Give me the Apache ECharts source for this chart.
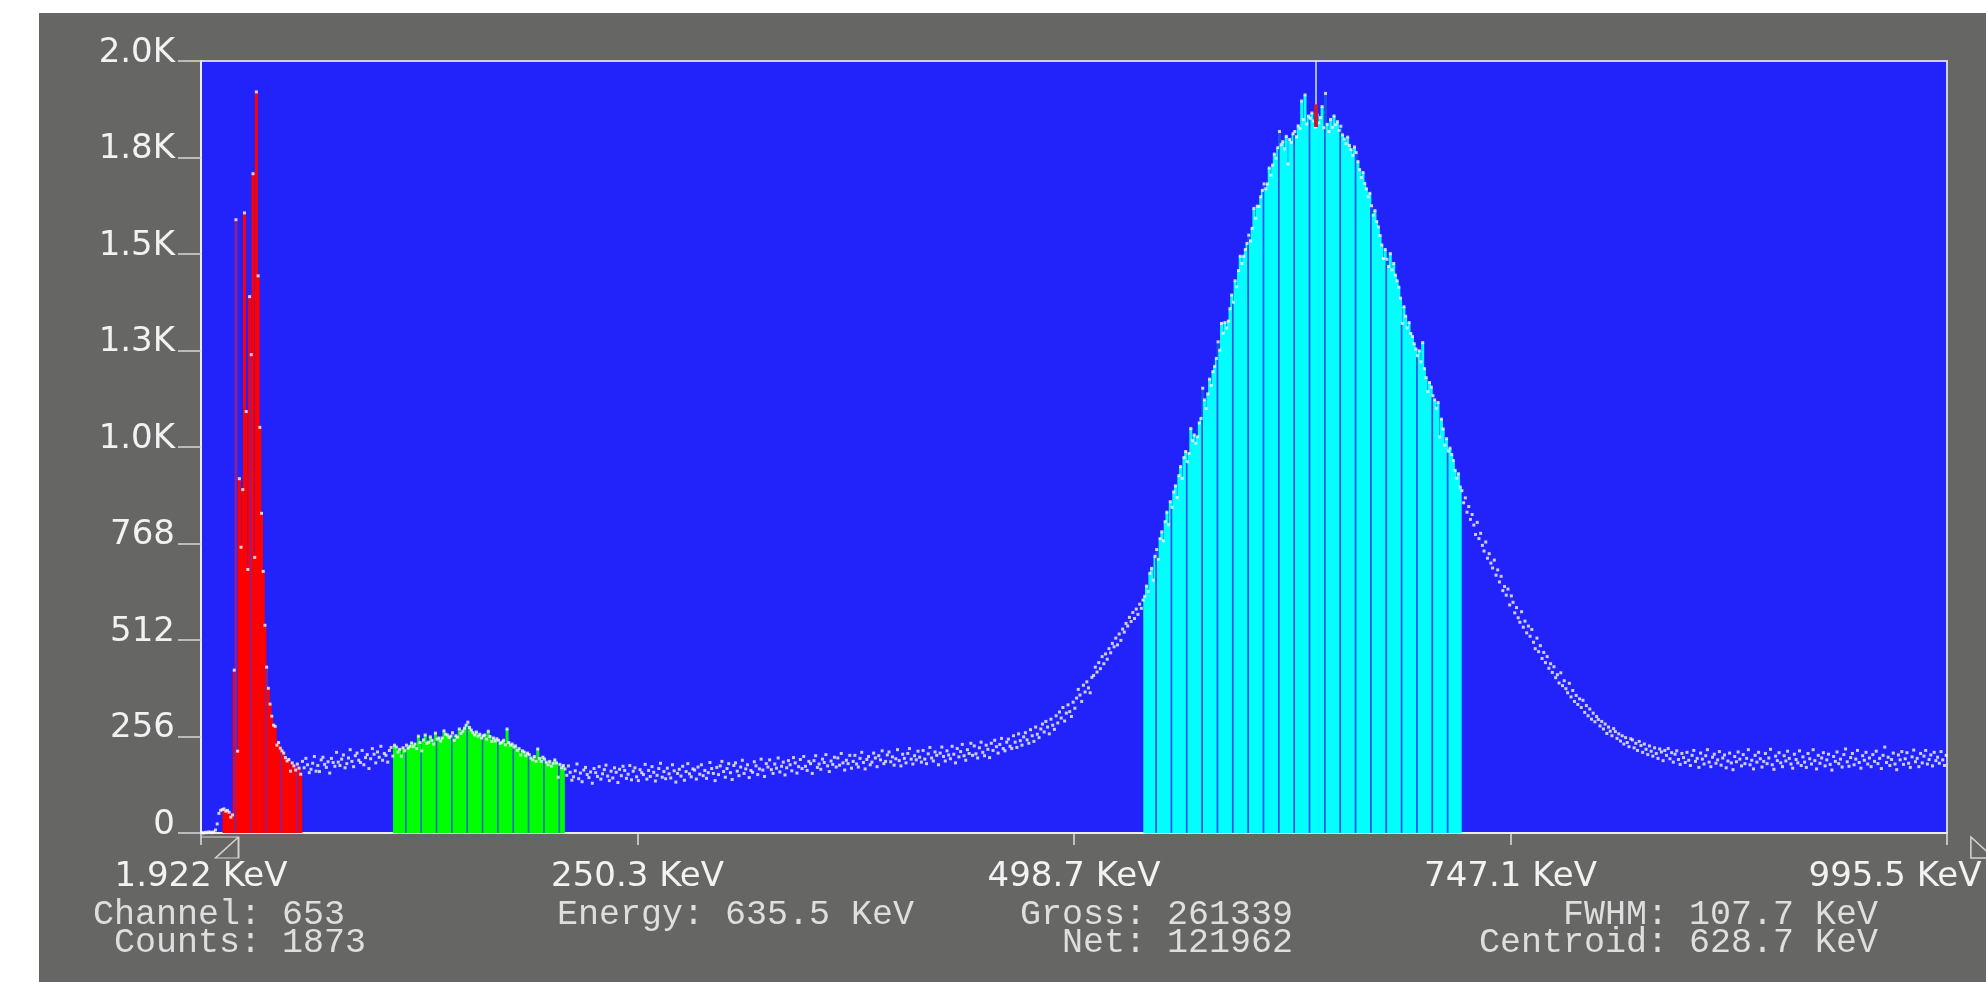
<!DOCTYPE html>
<html>
<head>
<meta charset="utf-8">
<title>Spectrum</title>
<script src="https://cdn.jsdelivr.net/npm/echarts@6/dist/echarts.min.js"></script>
<style>
  html, body { margin: 0; padding: 0; background: #ffffff; }
  #frame { position: relative; width: 1986px; height: 982px; overflow: hidden; background: #ffffff; }
  #panel { position: absolute; left: 39px; top: 13px; right: 0; bottom: 0; background: #666765; }
  #chart { position: absolute; left: 0; top: 0; width: 1986px; height: 982px; }
</style>
</head>
<body>
<div id="frame"><div id="panel"></div><div id="chart"></div></div>
<script>
// Axis tick labels (energy on x, counts on y)
const xTickLabels = ['1.922 KeV', '250.3 KeV', '498.7 KeV', '747.1 KeV', '995.5 KeV'];
const yTickLabels = ['0', '256', '512', '768', '1.0K', '1.3K', '1.5K', '1.8K', '2.0K'];
const yStep = 256;
const energyStart = 1.922;
const energyEnd = 995.5;

// Counts per channel, split into consecutive stretches of the spectrum
const countsLow = [1, 0, 2, 1, 3, 2, 1, 3, 8, 24, 52, 60, 62];            // ch 0-12
const countsRoiA = [                                                    // ch 13-58
  64, 58, 60, 55, 42, 48,
  432, 1627, 217, 940, 758, 911, 1645, 1118, 699, 1423,
  1269, 1749, 731, 1966, 1478, 1076, 848, 694, 551, 440,
  384, 342, 310, 286, 283, 233, 240, 225, 218, 212,
  200, 191, 195, 164, 186, 178, 167, 183, 172, 156
];
const countsMidA = [                                                    // ch 59-112
  190, 173, 198, 181, 160, 169, 185, 203, 164, 179,
  163, 194, 201, 182, 174, 189, 159, 198, 187, 177,
  214, 188, 179, 196, 207, 173, 184, 199, 221, 190,
  176, 205, 212, 193, 187, 219, 181, 200, 208, 171,
  197, 224, 209, 186, 215, 201, 230, 193, 211, 206,
  188, 219, 227, 204
];
const countsRoiB = [                                                    // ch 113-212
  233, 228, 215, 222, 204, 226, 218, 233, 225, 230,
  239, 229, 236, 224, 257, 240, 218, 247, 260, 238,
  241, 255, 246, 236, 265, 249, 252, 244, 252, 271,
  262, 260, 253, 257, 266, 246, 258, 254, 276, 264,
  270, 278, 286, 294, 280, 273, 266, 260, 268, 257,
  262, 252, 258, 260, 249, 270, 256, 243, 252, 244,
  250, 246, 238, 241, 246, 234, 276, 240, 233, 236,
  228, 231, 219, 224, 207, 218, 215, 205, 212, 208,
  199, 194, 203, 190, 223, 198, 190, 201, 196, 188,
  181, 190, 177, 185, 194, 186, 148, 182, 173, 179
];
const countsMidB = [                                                    // ch 213-552
  170, 153, 178, 161, 140, 149, 165, 183, 144, 159,
  136, 167, 174, 155, 147, 162, 132, 171, 160, 150,
  176, 143, 157, 168, 180, 151, 139, 164, 146, 173,
  161, 134, 169, 152, 177, 166, 145, 156, 179, 141,
  164, 173, 149, 139, 168, 160, 155, 182, 143, 166,
  150, 176, 161, 138, 153, 171, 185, 148, 163, 144,
  172, 157, 146, 181, 165, 135, 158, 169, 151, 177,
  140, 163, 184, 157, 149, 170, 167, 143, 175, 156,
  181, 152, 166, 145, 160, 187, 171, 158, 139, 174,
  155, 178, 190, 163, 148, 171, 184, 160, 142, 179,
  186, 164, 152, 175, 193, 158, 170, 181, 147, 166,
  161, 189, 178, 155, 170, 196, 167, 150, 184, 175,
  194, 168, 158, 183, 172, 199, 162, 177, 188, 154,
  173, 192, 181, 165, 200, 186, 159, 176, 195, 171,
  203, 177, 166, 190, 184, 158, 192, 205, 174, 183,
  169, 196, 187, 208, 178, 163, 191, 182, 201, 175,
  199, 180, 211, 186, 167, 193, 184, 206, 172, 190,
  206, 183, 175, 198, 214, 187, 170, 195, 203, 181,
  188, 212, 199, 176, 205, 194, 218, 184, 190, 207,
  215, 189, 202, 180, 197, 221, 192, 178, 209, 198,
  186, 211, 224, 196, 183, 205, 194, 217, 201, 188,
  219, 196, 184, 210, 227, 199, 191, 215, 206, 181,
  212, 228, 203, 191, 218, 207, 197, 230, 209, 186,
  224, 202, 216, 235, 205, 193, 221, 211, 238, 206,
  231, 210, 199, 226, 241, 214, 205, 233, 222, 200,
  238, 219, 246, 229, 212, 235, 251, 224, 218, 241,
  249, 230, 224, 258, 241, 227, 263, 245, 233, 255,
  266, 247, 238, 274, 258, 243, 281, 262, 253, 276,
  289, 268, 296, 281, 263, 302, 286, 275, 311, 292,
  321, 305, 333, 297, 318, 340, 322, 309, 347, 331,
  358, 381, 366, 349, 392, 374, 401, 385, 372, 413,
  418, 440, 427, 452, 436, 468, 449, 475, 461, 489,
  478, 503, 494, 517, 499, 528, 511, 541, 533, 556,
  549, 572, 561, 585, 569, 594, 580, 607, 596, 618
];
const countsRoiC = [                                                    // ch 553-738
  628, 655, 641, 689, 702, 671, 734, 752, 726, 781,
  799, 775, 826, 851, 818, 879, 864, 905, 921, 890,
  948, 972, 941, 996, 1012, 985, 1007, 1073, 1041, 1056,
  1034, 1051, 1088, 1100, 1180, 1149, 1126, 1165, 1204, 1187,
  1224, 1238, 1259, 1303, 1281, 1352, 1326, 1354, 1340, 1358,
  1391, 1427, 1408, 1465, 1449, 1492, 1530, 1511, 1530, 1548,
  1564, 1586, 1571, 1604, 1657, 1631, 1663, 1662, 1688, 1705,
  1722, 1709, 1722, 1764, 1745, 1772, 1801, 1790, 1818, 1861,
  1826, 1834, 1815, 1848, 1775, 1840, 1832, 1855, 1861, 1847,
  1876, 1869, 1942, 1893, 1958, 1881, 1902, 1896, 1910, 1889,
  1873, 1905, 1884, 1898, 1927, 1871, 1962, 1880, 1861, 1893,
  1872, 1902, 1879, 1887, 1864, 1875, 1852, 1841, 1829, 1846,
  1824, 1813, 1798, 1820, 1805, 1781, 1760, 1739, 1752, 1723,
  1709, 1688, 1697, 1664, 1639, 1651, 1622, 1608, 1585, 1560,
  1524, 1548, 1522, 1503, 1537, 1494, 1511, 1480, 1465, 1448,
  1419, 1352, 1396, 1371, 1340, 1354, 1325, 1317, 1298, 1284,
  1266, 1279, 1250, 1301, 1232, 1208, 1171, 1195, 1183, 1160,
  1149, 1127, 1142, 1051, 1098, 1072, 1029, 1046, 1013, 1021,
  1004, 988, 962, 941, 953, 918
];
const countsTail = [                                                    // ch 739-1023
  908, 876, 889, 851, 866, 832, 845, 817, 792, 824,
  781, 795, 763, 748, 772, 729, 741, 716, 703, 724,
  684, 698, 666, 681, 643, 654, 631, 647, 605, 629,
  612, 584, 598, 571, 559, 587, 546, 562, 531, 549,
  522, 540, 506, 489, 517, 481, 497, 463, 479, 452,
  468, 437, 449, 426, 441, 412, 420, 398, 425, 391,
  404, 383, 372, 397, 361, 378, 349, 365, 341, 356,
  333, 352, 320, 338, 311, 329, 302, 318, 295, 309,
  301, 284, 296, 276, 289, 264, 281, 270, 258, 277,
  269, 251, 263, 244, 258, 236, 253, 240, 229, 250,
  247, 226, 238, 219, 243, 232, 214, 236, 222, 208,
  231, 217, 204, 226, 211, 198, 223, 215, 192, 219,
  206, 224, 197, 213, 188, 209, 218, 195, 182, 211,
  200, 187, 214, 193, 179, 206, 219, 190, 198, 174,
  212, 196, 183, 205, 221, 188, 176, 201, 209, 185,
  194, 216, 180, 199, 207, 173, 191, 212, 186, 168,
  203, 189, 215, 196, 178, 208, 184, 198, 221, 181,
  193, 170, 206, 188, 214, 197, 175, 190, 211, 184,
  199, 222, 181, 169, 204, 192, 213, 186, 176, 205,
  191, 217, 198, 183, 172, 209, 195, 186, 218, 179,
  202, 188, 174, 211, 197, 183, 221, 192, 170, 206,
  185, 199, 213, 178, 194, 209, 182, 167, 203, 190,
  215, 184, 196, 175, 208, 223, 189, 177, 200, 211,
  181, 196, 219, 187, 172, 205, 193, 214, 183, 199,
  176, 208, 190, 217, 184, 198, 171, 206, 228, 187,
  201, 179, 195, 212, 183, 168, 207, 194, 216, 182,
  197, 213, 185, 174, 202, 220, 189, 198, 176, 211,
  186, 204, 219, 183, 195, 207, 178, 214, 192, 201,
  185, 216, 194, 179, 206
];

// Regions of interest (first and last channel) and their fill colours
const roiStart = [13, 113, 553];
const roiEnd = [58, 212, 738];
const roiFill = ['#ff0000', '#00ff00', '#00ffff'];
const roiSeam = ['#8a2096', '#1c74b4', '#1c52e4'];

// Cursor and range markers
const cursorChannel = 653;
const markerChannels = [22, 1038];

// Region statistics shown in the status lines
const roiGross = 261339;
const roiNet = 121962;
const roiFwhm = 107.7;
const roiCentroid = 628.7;

const counts = [].concat(countsLow, countsRoiA, countsMidA, countsRoiB, countsMidB, countsRoiC, countsTail);
const channelCount = counts.length;
const yMax = yStep * (yTickLabels.length - 1);
const xStep = channelCount / (xTickLabels.length - 1);
const kevPerChannel = (energyEnd - energyStart) / channelCount;

// Channel bars inside each region; every ninth column shows the darker seam
const barData = [];
roiStart.forEach((s, r) => {
  for (let ch = s; ch <= roiEnd[r]; ch++) {
    barData.push({
      value: [ch + 0.5, counts[ch]],
      itemStyle: { color: (ch - s) % 9 === 7 ? roiSeam[r] : roiFill[r] }
    });
  }
});

const dotData = counts.map((c, ch) => [ch + 0.5, c]);

const labelFont = 'DejaVu Sans';
const monoFont = 'Liberation Mono';
const textColor = '#f2f2f2';
const infoColor = '#dedede';

const cursorX = cursorChannel + 0.5;
const cursorCounts = counts[cursorChannel];

const infoStyle = { fontFamily: monoFont, fontSize: 35, lineHeight: 28, fill: infoColor };

const option = {
  animation: false,
  backgroundColor: 'transparent',
  grid: {
    left: 201, top: 61, width: 1746, height: 772,
    containLabel: false,
    outerBoundsMode: 'none',
    show: true,
    backgroundColor: '#2222fb',
    borderColor: '#cfd0e4',
    borderWidth: 2
  },
  xAxis: {
    type: 'value',
    min: 0, max: channelCount, interval: xStep,
    splitLine: { show: false },
    axisLine: { show: true, onZero: false, lineStyle: { color: '#ececec', width: 2 } },
    axisTick: { show: true, inside: false, length: 12, lineStyle: { color: '#e0e0e0', width: 1.5 } },
    axisLabel: {
      show: true, margin: 27, showMinLabel: true, showMaxLabel: true, hideOverlap: false,
      formatter: (v) => {
        const i = Math.round(v / xStep);
        return i === xTickLabels.length - 1 ? '{t|' + xTickLabels[i] + '}{sp| }' : '{t|' + xTickLabels[i] + '}';
      },
      rich: {
        t: { fontFamily: labelFont, fontSize: 34, lineHeight: 34, color: textColor },
        sp: { width: 104, fontSize: 34, lineHeight: 34 }
      }
    }
  },
  yAxis: {
    type: 'value',
    min: 0, max: yMax, interval: yStep,
    splitLine: { show: false },
    axisLine: { show: true, lineStyle: { color: '#ececec', width: 2 } },
    axisTick: { show: true, inside: false, length: 23, lineStyle: { color: '#d8d8d8', width: 1.5 } },
    axisLabel: {
      show: true, margin: 26, showMinLabel: true, showMaxLabel: true, hideOverlap: false,
      fontFamily: labelFont, fontSize: 34, lineHeight: 16, color: textColor,
      verticalAlign: 'bottom',
      formatter: (v) => yTickLabels[Math.round(v / yStep)]
    }
  },
  series: [
    {
      name: 'roi',
      type: 'bar',
      barWidth: 3,
      data: barData,
      silent: true,
      z: 2
    },
    {
      name: 'counts',
      type: 'scatter',
      symbol: 'rect',
      symbolSize: [3, 3],
      itemStyle: { color: '#f8f8ff' },
      data: dotData,
      silent: true,
      z: 4,
      markLine: {
        silent: true,
        symbol: ['none', 'none'],
        label: { show: false },
        data: [
          [
            { coord: [cursorX, cursorCounts], lineStyle: { color: '#c4ecff', width: 1.5, type: 'solid' } },
            { coord: [cursorX, yMax] }
          ],
          [
            { coord: [cursorX, cursorCounts], lineStyle: { color: '#c2183c', width: 4, type: 'solid' } },
            { coord: [cursorX, cursorCounts + 60] }
          ]
        ]
      }
    },
    {
      name: 'markers',
      type: 'scatter',
      silent: true,
      clip: false,
      z: 5,
      itemStyle: { color: 'transparent', borderColor: '#ececec', borderWidth: 1.5 },
      data: [
        { value: [markerChannels[0], 0], symbol: 'path://M0,0 L37,0 L37,21 L14,21 L37,0', symbolSize: [37, 21], symbolOffset: [-18.5, 14.5] },
        { value: [markerChannels[1], 0], symbol: 'path://M0,0 L0,21 L23,21 Z', symbolSize: [23, 21], symbolOffset: [11.5, 14.5] }
      ]
    }
  ],
  graphic: [
    {
      type: 'text', left: 93, top: 897, silent: true,
      style: Object.assign({ text: 'Channel: ' + cursorChannel + '\n Counts: ' + cursorCounts }, infoStyle)
    },
    {
      type: 'text', left: 557, top: 897, silent: true,
      style: Object.assign({ text: 'Energy: ' + (energyStart + cursorChannel * kevPerChannel).toFixed(1) + ' KeV' }, infoStyle)
    },
    {
      type: 'text', left: 1020, top: 897, silent: true,
      style: Object.assign({ text: 'Gross: ' + roiGross + '\n  Net: ' + roiNet }, infoStyle)
    },
    {
      type: 'text', left: 1479, top: 897, silent: true,
      style: Object.assign({ text: '    FWHM: ' + roiFwhm.toFixed(1) + ' KeV\nCentroid: ' + roiCentroid.toFixed(1) + ' KeV' }, infoStyle)
    }
  ]
};

const chart = echarts.init(document.getElementById('chart'), null, { renderer: 'canvas', width: 1986, height: 982 });
chart.setOption(option);
</script>
</body>
</html>
